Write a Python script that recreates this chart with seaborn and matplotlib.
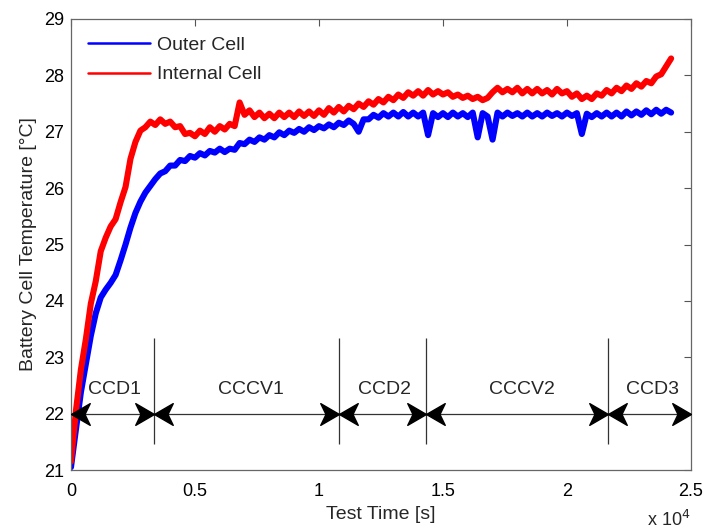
"""
Battery cell temperature during the cycling test: outer vs internal cell,
with the CCD / CCCV phases marked along the bottom of the plot.
"""

import numpy as np
import pandas as pd
import matplotlib
matplotlib.use("Agg")
import matplotlib.pyplot as plt
import seaborn as sns
from matplotlib.path import Path
from matplotlib.ticker import FuncFormatter, MultipleLocator

time_s = list(range(0, 24201, 200))

outer_cell = [
    21.05, 21.72, 22.38, 22.88, 23.38, 23.78, 24.06, 24.20, 24.32, 24.46,
    24.72, 25.00, 25.30, 25.56, 25.76, 25.92, 26.04, 26.16, 26.26, 26.30,
    26.40, 26.40, 26.50, 26.48, 26.57, 26.54, 26.62, 26.58, 26.66, 26.63,
    26.70, 26.64, 26.70, 26.68, 26.80, 26.78, 26.86, 26.82, 26.90, 26.86,
    26.94, 26.90, 26.99, 26.94, 27.02, 26.98, 27.05, 27.00, 27.08, 27.03,
    27.10, 27.06, 27.13, 27.08, 27.16, 27.12, 27.20, 27.14, 27.00, 27.22,
    27.22, 27.30, 27.25, 27.33, 27.27, 27.34, 27.27, 27.35, 27.27, 27.34,
    27.27, 27.34, 26.94, 27.33, 27.26, 27.33, 27.26, 27.34, 27.27, 27.33,
    27.26, 27.34, 26.90, 27.33, 27.27, 26.86, 27.34, 27.27, 27.34, 27.28,
    27.33, 27.27, 27.34, 27.27, 27.33, 27.27, 27.34, 27.28, 27.33, 27.27,
    27.34, 27.28, 27.33, 26.96, 27.32, 27.26, 27.33, 27.27, 27.34, 27.27,
    27.34, 27.27, 27.36, 27.29, 27.36, 27.30, 27.38, 27.31, 27.39, 27.32,
    27.39, 27.34,
]

internal_cell = [
    21.15, 22.05, 22.78, 23.32, 23.95, 24.35, 24.88, 25.12, 25.32, 25.45,
    25.75, 26.02, 26.52, 26.82, 27.02, 27.08, 27.18, 27.12, 27.22, 27.14,
    27.18, 27.08, 27.10, 26.96, 26.98, 26.92, 27.02, 26.96, 27.08, 27.00,
    27.10, 27.04, 27.14, 27.10, 27.52, 27.30, 27.38, 27.26, 27.34, 27.24,
    27.32, 27.24, 27.34, 27.26, 27.34, 27.26, 27.36, 27.28, 27.36, 27.28,
    27.38, 27.30, 27.42, 27.34, 27.44, 27.36, 27.46, 27.40, 27.50, 27.44,
    27.54, 27.48, 27.58, 27.52, 27.62, 27.56, 27.66, 27.60, 27.70, 27.64,
    27.72, 27.64, 27.74, 27.66, 27.72, 27.66, 27.70, 27.62, 27.66, 27.60,
    27.64, 27.58, 27.62, 27.56, 27.60, 27.70, 27.78, 27.70, 27.76, 27.70,
    27.78, 27.68, 27.76, 27.68, 27.76, 27.68, 27.74, 27.66, 27.76, 27.68,
    27.72, 27.62, 27.68, 27.58, 27.64, 27.58, 27.68, 27.64, 27.74, 27.68,
    27.78, 27.72, 27.82, 27.76, 27.86, 27.80, 27.90, 27.86, 27.98, 28.02,
    28.16, 28.30,
]

series_names = ["Outer Cell", "Internal Cell"]
series_colors = ["#0000ff", "#ff0000"]

# test phases: boundaries (s) and where their labels sit
phase_starts = [0, 3350, 10800, 14300, 21640]
phase_ends = [3350, 10800, 14300, 21640, 25000]
phase_names = ["CCD1", "CCCV1", "CCD2", "CCCV2", "CCD3"]
phase_label_x = [1770, 7260, 12640, 18200, 23450]

df = pd.concat(
    [
        pd.DataFrame({"time": time_s, "temp": outer_cell, "series": series_names[0]}),
        pd.DataFrame({"time": time_s, "temp": internal_cell, "series": series_names[1]}),
    ],
    ignore_index=True
)

sns.set_theme(style="white")
plt.rcParams["font.family"] = ["Liberation Sans", "DejaVu Sans"]

fig, ax = plt.subplots(figsize=(7.22, 5.32), dpi=100)
fig.subplots_adjust(left=0.0983, right=0.957, bottom=0.1165, top=0.9643)

sns.lineplot(
    data=df,
    x="time",
    y="temp",
    hue="series",
    hue_order=series_names,
    palette=series_colors,
    estimator=None,
    sort=False,
    linewidth=4.4,
    ax=ax
)

# phase markers: shaft, separators and swept-back arrow heads
head_right = Path(
    [(0, 0), (-1, 0.58), (-0.72, 0), (-1, -0.58), (0, 0)],
    [Path.MOVETO, Path.LINETO, Path.LINETO, Path.LINETO, Path.CLOSEPOLY]
)
head_left = Path(
    [(0, 0), (1, 0.58), (0.72, 0), (1, -0.58), (0, 0)],
    [Path.MOVETO, Path.LINETO, Path.LINETO, Path.LINETO, Path.CLOSEPOLY]
)

arrow_y = 22
ax.hlines(arrow_y, phase_starts[0], phase_ends[-1], color="#333333", linewidth=0.9, zorder=3)
ax.vlines(phase_starts[1:], 21.46, 23.34, color="#333333", linewidth=0.9, zorder=3)
ax.plot(phase_ends, [arrow_y] * len(phase_ends), ls="none", marker=head_right,
        markersize=27, color="black", zorder=4)
ax.plot(phase_starts, [arrow_y] * len(phase_starts), ls="none", marker=head_left,
        markersize=27, color="black", zorder=4)

for name, x_pos in zip(phase_names, phase_label_x):
    ax.text(
        x_pos, 22.42, name,
        fontsize=14, ha="center", va="center", zorder=5,
        bbox=dict(facecolor="white", edgecolor="none", pad=1.0)
    )

ax.set_xlim(0, 25000)
ax.set_ylim(21, 29)
ax.xaxis.set_major_locator(MultipleLocator(5000))
ax.yaxis.set_major_locator(MultipleLocator(1))
ax.xaxis.set_major_formatter(FuncFormatter(lambda v, _: f"{v / 1e4:g}"))

ax.set_xlabel("Test Time [s]", fontsize=14, labelpad=5)
ax.set_ylabel("Battery Cell Temperature [°C]", fontsize=14, labelpad=5)
ax.text(1.0, -0.088, "x 10$^{4}$", transform=ax.transAxes,
        ha="right", va="top", fontsize=13)

ax.tick_params(direction="in", length=5, width=0.8, top=True, right=True,
               color="#555555", labelcolor="black", labelsize=13, pad=5)
ax.tick_params(axis="x", pad=9)
for spine in ax.spines.values():
    spine.set_visible(True)
    spine.set_color("#666666")
    spine.set_linewidth(0.9)

sns.move_legend(
    ax,
    "upper left",
    bbox_to_anchor=(0.027, 0.962),
    title=None,
    frameon=False,
    borderpad=0,
    borderaxespad=0,
    handlelength=3.2,
    handletextpad=0.35,
    labelspacing=0.62,
    fontsize=14
)
for line in ax.get_legend().get_lines():
    line.set_linewidth(1.8)

fig.savefig("out.png", dpi=100)
plt.close(fig)
